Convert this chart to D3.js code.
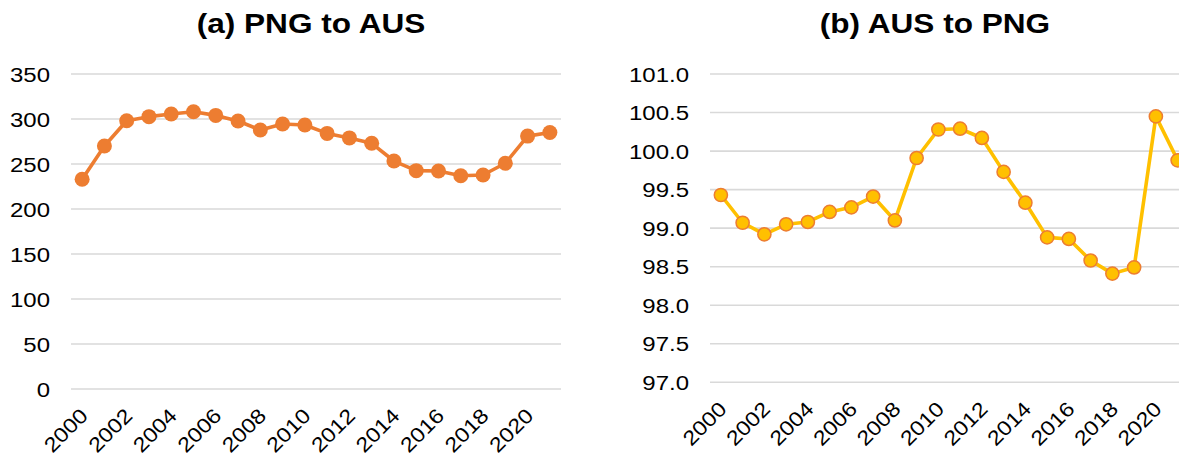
<!DOCTYPE html>
<html>
<head>
<meta charset="utf-8">
<script src="https://cdn.jsdelivr.net/npm/d3@7"></script>
<style>
  html, body { margin: 0; padding: 0; background: #fff; }
  svg { display: block; }
  text { font-family: "Liberation Sans", Arial, sans-serif; fill: #000; }
</style>
</head>
<body>
<svg id="chart" width="1179" height="454"></svg>
<script>
const years = [2000,2001,2002,2003,2004,2005,2006,2007,2008,2009,2010,2011,2012,2013,2014,2015,2016,2017,2018,2019,2020,2021];
const xTickLabels = [2000,2002,2004,2006,2008,2010,2012,2014,2016,2018,2020];

const pngToAus = [233,270,298,302.6,305.6,308,304,297.8,287.8,294.4,293.3,284,279,273,253.3,242.6,242.2,237,237.8,250.8,281,285];
const ausToPng = [99.43,99.07,98.92,99.05,99.08,99.21,99.27,99.41,99.10,99.91,100.28,100.29,100.17,99.73,99.33,98.88,98.86,98.58,98.41,98.49,100.45,99.88];

const leftTicks = [0,50,100,150,200,250,300,350];
const rightTicks = [97.0,97.5,98.0,98.5,99.0,99.5,100.0,100.5,101.0];

const titleA = "(a) PNG to AUS";
const titleB = "(b) AUS to PNG";

const svg = d3.select("#chart");
const SX = 1.17; // horizontal stretch of text as in reference

function panel(cfg) {
  const g = svg.append("g");
  const x = d3.scaleBand().domain(years).range([cfg.x0, cfg.x1]);
  const y = d3.scaleLinear().domain(cfg.domain).range([cfg.yBottom, cfg.yTop]);

  // gridlines
  g.append("g").selectAll("line").data(cfg.ticks).join("line")
    .attr("x1", cfg.x0).attr("x2", cfg.x1)
    .attr("y1", d => y(d)).attr("y2", d => y(d))
    .attr("stroke", "#D9D9D9").attr("stroke-width", 1.6);

  // y tick labels
  g.append("g").selectAll("text").data(cfg.ticks).join("text")
    .attr("transform", d => `translate(${cfg.labelRight},${y(d) + 7.5}) scale(${SX},1)`)
    .attr("text-anchor", "end")
    .style("font-size", "20.5px")
    .text(d => cfg.fmt(d));

  // x tick labels
  g.append("g").selectAll("text").data(xTickLabels).join("text")
    .attr("transform", d => `translate(${x(d) + x.bandwidth()/2 + 7},${cfg.yBottom + 28}) rotate(-45) scale(1.14,1)`)
    .attr("text-anchor", "end")
    .style("font-size", "20.5px")
    .text(d => d);

  // line
  const line = d3.line()
    .x((d, i) => x(years[i]) + x.bandwidth()/2)
    .y(d => y(d));
  g.append("path").datum(cfg.values)
    .attr("d", line)
    .attr("fill", "none")
    .attr("stroke", cfg.lineColor)
    .attr("stroke-width", 3.6)
    .attr("stroke-linejoin", "round");

  // markers
  g.append("g").selectAll("circle").data(cfg.values).join("circle")
    .attr("cx", (d, i) => x(years[i]) + x.bandwidth()/2)
    .attr("cy", d => y(d))
    .attr("r", cfg.r)
    .attr("fill", cfg.markerFill)
    .attr("stroke", cfg.markerStroke)
    .attr("stroke-width", cfg.markerStrokeWidth);

  // title
  g.append("text")
    .attr("transform", `translate(${cfg.titleX},33) scale(${SX},1)`)
    .attr("text-anchor", "middle")
    .style("font-size", "27px")
    .style("font-weight", "bold")
    .text(cfg.title);
}

panel({
  x0: 71, x1: 561, yTop: 74, yBottom: 389, domain: [0, 350],
  ticks: leftTicks, labelRight: 50, fmt: d => d3.format("d")(d),
  values: pngToAus, lineColor: "#ED7D31",
  markerFill: "#ED7D31", markerStroke: "#ED7D31", markerStrokeWidth: 0, r: 7.5,
  title: titleA, titleX: 311
});

panel({
  x0: 710, x1: 1188.5, yTop: 74, yBottom: 382.3, domain: [97, 101],
  ticks: rightTicks, labelRight: 689, fmt: d => d3.format(".1f")(d),
  values: ausToPng, lineColor: "#FFC000",
  markerFill: "#FFC000", markerStroke: "#ED7D31", markerStrokeWidth: 1.5, r: 6.6,
  title: titleB, titleX: 935
});
</script>
</body>
</html>
